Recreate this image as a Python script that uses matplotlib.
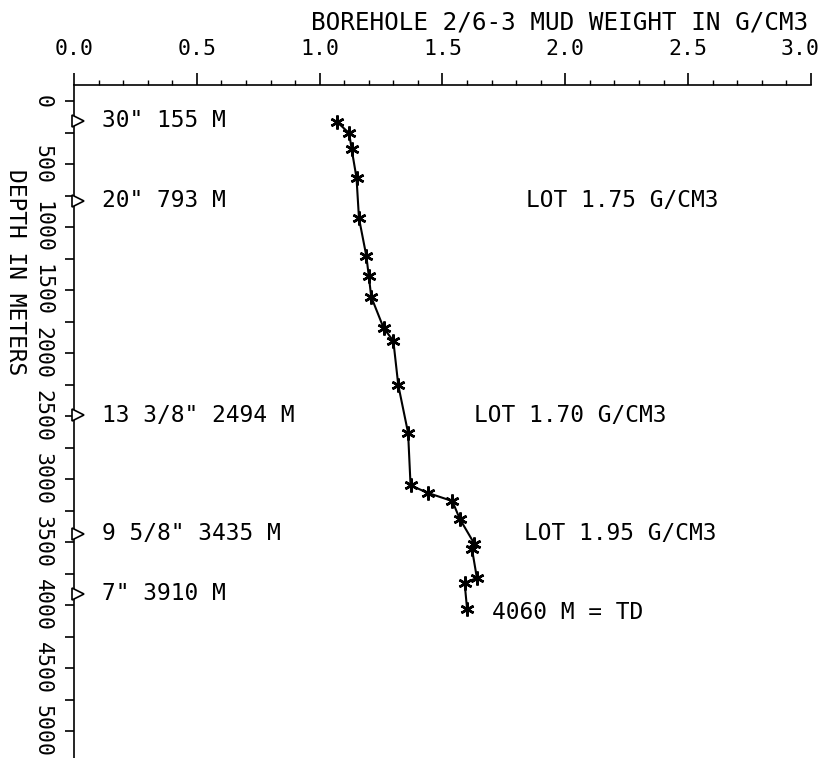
import matplotlib.pyplot as plt
from matplotlib.ticker import MultipleLocator

# Mud weight log (g/cm3) versus depth (m):
MUD_WEIGHT = [1.07, 1.12, 1.13, 1.15, 1.16, 1.19, 1.20, 1.21, 1.26, 1.30,
              1.32, 1.36, 1.37, 1.44, 1.54, 1.57, 1.63, 1.62, 1.64, 1.59,
              1.60]
DEPTH = [165, 255, 380, 610, 930, 1230, 1390, 1555, 1800, 1905,
         2255, 2635, 3050, 3110, 3175, 3315, 3515, 3555, 3785, 3825,
         4030]

# Casing shoes and leak-off tests:
CASING_DEPTH = [155, 793, 2494, 3435, 3910]
CASING_LABELS = ['30" 155 M', '20" 793 M', '13 3/8" 2494 M',
                 '9 5/8" 3435 M', '7" 3910 M']
LOT_DEPTH = [793, 2494, 3435]
LOT_X = [1.84, 1.63, 1.83]
LOT_LABELS = ["LOT 1.75 G/CM3", "LOT 1.70 G/CM3", "LOT 1.95 G/CM3"]
TD = 4060
X_MAX = 3.0

FONT = "DejaVu Sans Mono"
plt.rcParams["font.family"] = FONT

fig = plt.figure(figsize=(8.2, 7.58), dpi=100)
ax = fig.add_axes([74 / 820, 0.0, (811 - 74) / 820, 1 - 85 / 758])

ax.plot(MUD_WEIGHT, DEPTH, color="black", lw=1.5,
        marker=(6, 2, 0), ms=10, mew=1.8)

# Casing markers on the depth axis:
ax.plot([0.017] * len(CASING_DEPTH), CASING_DEPTH, ">", ms=9,
        mfc="white", mec="black", mew=1.2, clip_on=False, zorder=5)
for d, txt in zip(CASING_DEPTH, CASING_LABELS):
    ax.text(0.115, d, txt, fontsize=16.5, va="center", ha="left")

for x, d, txt in zip(LOT_X, LOT_DEPTH, LOT_LABELS):
    ax.text(x, d, txt, fontsize=16.5, va="center", ha="left")

ax.text(1.70, TD, "4060 M = TD", fontsize=16.5, va="center", ha="left")

# Axes settings:
ax.set_xlim(0, X_MAX)
ax.set_ylim(5214, -127)
ax.xaxis.tick_top()
ax.xaxis.set_major_locator(MultipleLocator(0.5))
ax.xaxis.set_minor_locator(MultipleLocator(0.1))
# the last label is drawn by hand so that it stays inside the picture
ax.xaxis.set_major_formatter(
    lambda v, p: "" if v > X_MAX - 0.01 else f"{v:.1f}")
ax.yaxis.set_major_locator(MultipleLocator(500))
ax.yaxis.set_minor_locator(MultipleLocator(250))
ax.tick_params(axis="x", which="major", length=8.6, width=1.2,
               labelsize=15.5, pad=10)
ax.tick_params(axis="x", which="minor", length=3.6, width=1.0)
ax.tick_params(axis="y", which="both", length=6.5, width=1.2,
               labelsize=15.5, pad=9)
for lab in ax.get_yticklabels():
    lab.set_rotation(-90)
    lab.set_va("center")
for side in ("right", "bottom"):
    ax.spines[side].set_visible(False)
for side in ("top", "left"):
    ax.spines[side].set_linewidth(1.2)

ax.annotate(f"{X_MAX:.1f}", xy=(X_MAX, 1), xycoords=("data", "axes fraction"),
            xytext=(6, 18.6), textcoords="offset points",
            fontsize=15.5, ha="right", va="bottom")

fig.text(808 / 820, 1 - 22 / 758, "BOREHOLE 2/6-3 MUD WEIGHT IN G/CM3",
         fontsize=17.5, ha="right", va="center")
fig.text(15 / 820, 1 - 272 / 758, "DEPTH IN METERS", fontsize=16.5,
         rotation=-90, ha="center", va="center")

fig.savefig("out.png", dpi=100)
